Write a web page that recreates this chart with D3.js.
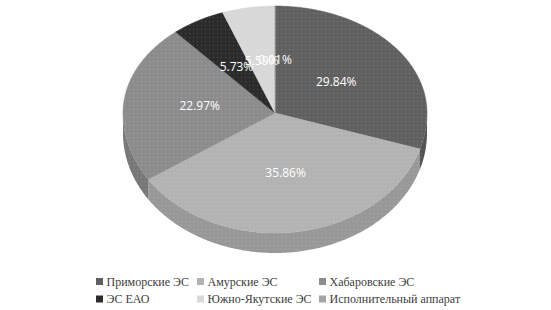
<!DOCTYPE html>
<html>
<head>
<meta charset="utf-8">
<script src="https://cdn.jsdelivr.net/npm/d3@7"></script>
<style>
  body { margin: 0; background: #fff; }
  svg { display: block; }
  .legend text { font-family: "Liberation Serif", "Times New Roman", serif; font-size: 12px; fill: #404040; }
  .plabel { font-family: "Open Sans", sans-serif; font-size: 12px; fill: #fff; }
</style>
</head>
<body>
<div id="chart"></div>
<script>
// data
var categories = ["Приморские ЭС", "Амурские ЭС", "Хабаровские ЭС", "ЭС ЕАО", "Южно-Якутские ЭС", "Исполнительный аппарат"];
var shares = [29.84, 35.86, 22.97, 5.73, 5.59, 0.01];
var labels = ["29.84%", "35.86%", "22.97%", "5.73%", "5.59%", "0.01%"];
var topColors = ["#606060", "#b3b3b3", "#8c8c8c", "#2b2b2b", "#d8d8d8", "#a5a5a5"];

var width = 551, height = 310;

// pie geometry (tilted, a bit bigger towards the viewer)
var cx = 275, cy = 113;
var rx = 152, ryTop = 107, ryBot = 120;
var depth = 20;

var svg = d3.select("#chart").append("svg")
  .attr("width", width)
  .attr("height", height);

// faint dotted texture like the original
var defs = svg.append("defs");
var pat = defs.append("pattern")
  .attr("id", "dots")
  .attr("width", 4).attr("height", 4)
  .attr("patternUnits", "userSpaceOnUse");
pat.append("rect").attr("x", 1).attr("y", 1).attr("width", 1).attr("height", 1)
  .attr("fill", "#fff").attr("opacity", 0.18);

var color = d3.scaleOrdinal().domain(categories).range(topColors);

var pie = d3.pie().sort(null).value(function(d) { return d.v; });
var arcs = pie(categories.map(function(c, i) { return { name: c, v: shares[i], label: labels[i] }; }));

// angle a measured clockwise from 12 o'clock
function pt(a, f, dy) {
  f = f == null ? 1 : f;
  var c = Math.cos(a);
  var ry = c > 0 ? ryTop : ryBot;
  return [cx + f * rx * Math.sin(a), cy - f * ry * c + (dy || 0)];
}

function arcPoints(a0, a1, dy) {
  var n = Math.max(2, Math.ceil((a1 - a0) / 0.01));
  var pts = [];
  for (var k = 0; k <= n; k++) pts.push(pt(a0 + (a1 - a0) * k / n, 1, dy));
  return pts;
}

var line = d3.line();

// outer walls, only the front half (pi/2 .. 3pi/2) shows
var gSide = svg.append("g");
arcs.forEach(function(d) {
  var a0 = Math.max(d.startAngle, Math.PI / 2);
  var a1 = Math.min(d.endAngle, 3 * Math.PI / 2);
  if (a1 <= a0) return;
  var top = arcPoints(a0, a1, 0);
  var bot = arcPoints(a0, a1, depth).reverse();
  var p = line(top.concat(bot)) + "Z";
  var c = d3.color(color(d.data.name)).darker(0.45);
  gSide.append("path").attr("d", p).attr("fill", c);
  gSide.append("path").attr("d", p).attr("fill", "url(#dots)");
});

// top faces
var gTop = svg.append("g");
arcs.forEach(function(d) {
  var pts = [[cx, cy]].concat(arcPoints(d.startAngle, d.endAngle, 0));
  var p = line(pts) + "Z";
  gTop.append("path").attr("d", p).attr("fill", color(d.data.name))
    .attr("stroke", color(d.data.name)).attr("stroke-width", 0.5);
  gTop.append("path").attr("d", p).attr("fill", "url(#dots)");
});

// percentage labels
svg.append("g").selectAll("text")
  .data(arcs)
  .join("text")
  .attr("class", "plabel")
  .attr("x", function(d) { return pt((d.startAngle + d.endAngle) / 2, 0.5)[0]; })
  .attr("y", function(d) { return pt((d.startAngle + d.endAngle) / 2, 0.5)[1]; })
  .attr("dy", "0.35em")
  .attr("text-anchor", "middle")
  .text(function(d) { return d.data.label; });

// legend, 3 columns x 2 rows
var colX = [96, 197, 319];
var rowY = [281.5, 299];
var legend = svg.append("g").attr("class", "legend");

categories.forEach(function(c, i) {
  var x = colX[i % 3], y = rowY[Math.floor(i / 3)];
  legend.append("rect")
    .attr("x", x).attr("y", y - 3.5)
    .attr("width", 7).attr("height", 7)
    .attr("fill", color(c));
  legend.append("text")
    .attr("x", x + 10.5).attr("y", y)
    .attr("dy", "0.35em")
    .text(c);
});
</script>
</body>
</html>
